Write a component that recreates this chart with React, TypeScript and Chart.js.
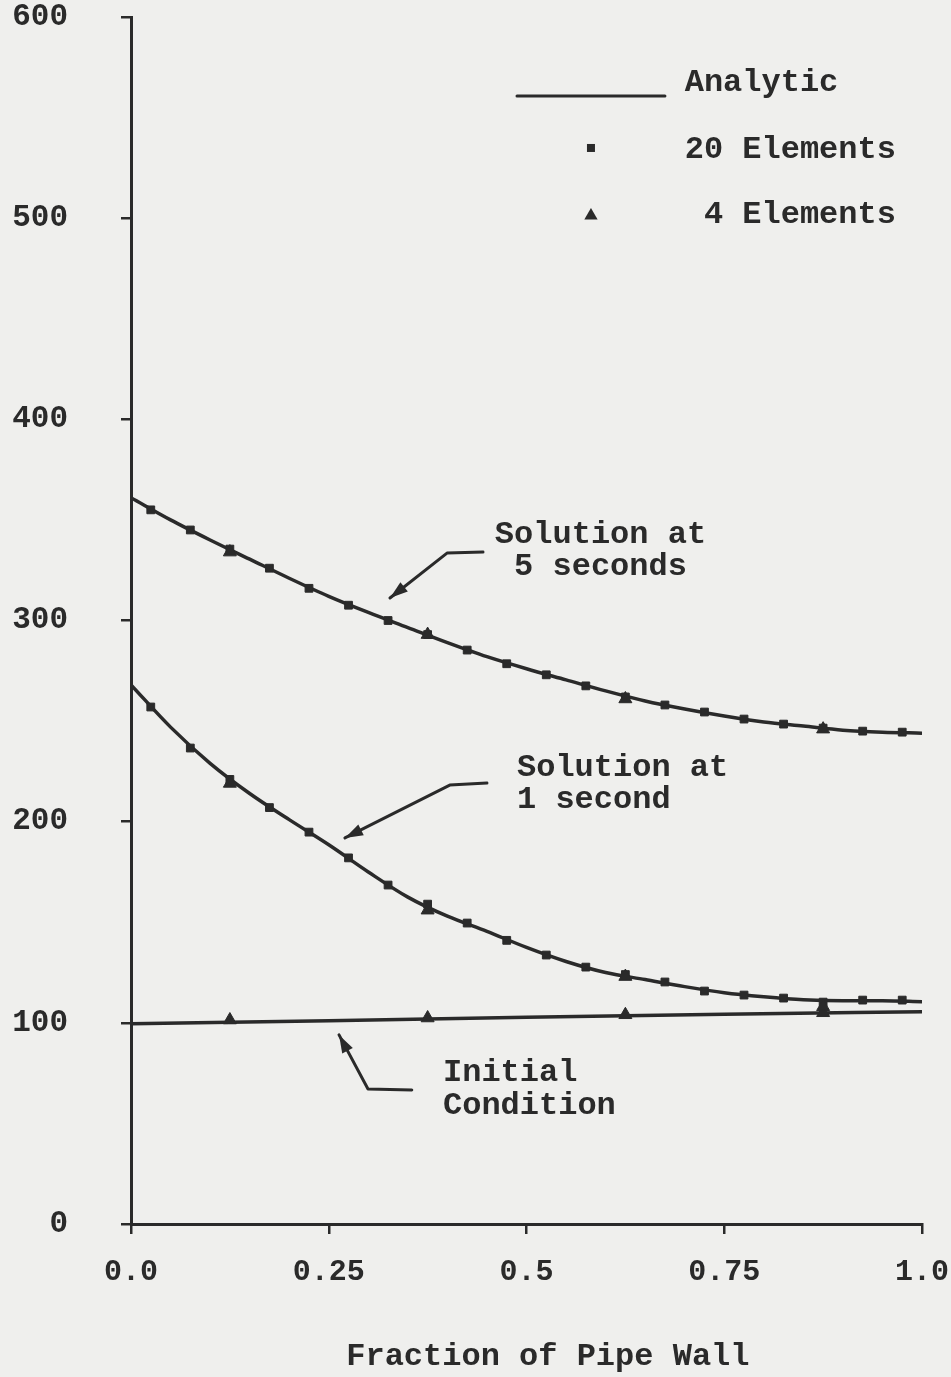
import { useEffect, useRef } from "react";
import { Chart, registerables } from "chart.js";

Chart.register(...registerables);

// ---------- data ----------
const analyticX = [0, 0.05, 0.1, 0.15, 0.2, 0.25, 0.3, 0.35, 0.4, 0.45, 0.5, 0.55, 0.6, 0.65, 0.7, 0.75, 0.8, 0.85, 0.9, 0.95, 1.0];
const analytic5s = [361, 350, 340, 330.5, 321, 312, 304, 296.5, 289, 282, 276, 270.5, 265, 260, 256, 252.5, 249.5, 247.5, 245.5, 244.5, 244];
const analytic1s = [268, 247, 229, 214, 201, 188.5, 175, 162.5, 153, 145.5, 137.5, 130.5, 125, 121.5, 118, 115, 113, 111.5, 111, 111, 110.5];

const initialX = [0, 0.25, 0.5, 0.75, 1.0];
const initialValues = [99.5, 101, 102.8, 104.3, 105.5];

const elem20X = [0.025, 0.075, 0.125, 0.175, 0.225, 0.275, 0.325, 0.375, 0.425, 0.475, 0.525, 0.575, 0.625, 0.675, 0.725, 0.775, 0.825, 0.875, 0.925, 0.975];
const elem20At5s = [355, 345, 335.5, 326, 316, 307.6, 300, 293, 285.3, 278.5, 273, 267.5, 262, 258, 254.5, 251, 248.5, 246.5, 245, 244.5];
const elem20At1s = [257, 236.6, 221, 207, 194.8, 182, 168.5, 159, 149.6, 141, 133.7, 127.7, 124, 120.3, 115.8, 113.8, 112.3, 110.3, 111.3, 111.3];

const elem4X = [0.125, 0.375, 0.625, 0.875];
const elem4At5s = [334, 293, 261, 246];
const elem4At1s = [219, 156, 123, 108];
const elem4Initial = [101.4, 102.4, 104, 105];

const xTickValues = [0, 0.25, 0.5, 0.75, 1.0];
const xTickLabels = ["0.0", "0.25", "0.5", "0.75", "1.0"];
const yTickValues = [0, 100, 200, 300, 400, 500, 600];
const yTickLabels = ["0", "100", "200", "300", "400", "500", "600"];

const xAxisTitle = "Fraction of Pipe Wall";
const xAxisTitleAnchor = { x: 0.527, y: -66 };
const legendLabels = ["Analytic", "20 Elements", " 4 Elements"];

// annotation texts and anchor positions (in data units)
const noteTexts = [
  ["Solution at", " 5 seconds"],
  ["Solution at", "1 second"],
  ["Initial", "Condition"],
];
const noteAnchors = [
  { x: 0.46, y: [342.5, 326.6] },
  { x: 0.488, y: [226.7, 210.8] },
  { x: 0.3944, y: [75.1, 58.7] },
];
const arrowPaths = [
  { x: [0.445, 0.3995, 0.3274], y: [334.0, 333.5, 311.2] },
  { x: [0.45, 0.403, 0.2705], y: [219.2, 218.2, 191.9] },
  { x: [0.355, 0.2996, 0.263], y: [66.6, 67.1, 94.0] },
];
const legendAnchor = {
  lineX: [0.488, 0.675],
  lineY: 560.7,
  markerX: 0.5815,
  textX: 0.7,
  rowY: [567.2, 533.9, 501.6],
};

const INK = "#2a2a2a";
const BG = "#efefed";
const FONT = "bold 32px 'Liberation Mono', 'DejaVu Sans Mono', monospace";

const toPts = (xs: number[], ys: number[]) => xs.map((x, i) => ({ x, y: ys[i] }));

function drawTriangle(ctx: CanvasRenderingContext2D, x: number, y: number, r: number) {
  ctx.beginPath();
  ctx.moveTo(x, y - r);
  ctx.lineTo(x + r * 0.95, y + r * 0.65);
  ctx.lineTo(x - r * 0.95, y + r * 0.65);
  ctx.closePath();
  ctx.fill();
}

const bgPlugin = {
  id: "bgPaper",
  beforeDraw(chart: any) {
    const ctx = chart.ctx;
    ctx.save();
    ctx.fillStyle = BG;
    ctx.fillRect(0, 0, chart.width, chart.height);
    ctx.restore();
  },
};

const notesPlugin = {
  id: "notes",
  afterDraw(chart: any) {
    const ctx: CanvasRenderingContext2D = chart.ctx;
    const sx = chart.scales.x;
    const sy = chart.scales.y;
    const px = (v: number) => sx.getPixelForValue(v);
    const py = (v: number) => sy.getPixelForValue(v);
    ctx.save();
    ctx.fillStyle = INK;
    ctx.strokeStyle = INK;
    ctx.font = FONT;
    ctx.textAlign = "left";
    ctx.textBaseline = "middle";

    // annotation texts
    noteTexts.forEach((lines, i) => {
      lines.forEach((t, j) => {
        ctx.fillText(t, px(noteAnchors[i].x), py(noteAnchors[i].y[j]));
      });
    });

    // x-axis title
    ctx.textAlign = "center";
    ctx.fillText(xAxisTitle, px(xAxisTitleAnchor.x), py(xAxisTitleAnchor.y));
    ctx.textAlign = "left";

    // arrows
    ctx.lineWidth = 3;
    ctx.lineCap = "round";
    ctx.lineJoin = "round";
    arrowPaths.forEach((a) => {
      const pts = a.x.map((x, k) => [px(x), py(a.y[k])]);
      ctx.beginPath();
      ctx.moveTo(pts[0][0], pts[0][1]);
      for (let k = 1; k < pts.length; k++) ctx.lineTo(pts[k][0], pts[k][1]);
      ctx.stroke();
      const [x1, y1] = pts[pts.length - 2];
      const [x2, y2] = pts[pts.length - 1];
      const ang = Math.atan2(y2 - y1, x2 - x1);
      const len = 18;
      const w = 6;
      ctx.beginPath();
      ctx.moveTo(x2, y2);
      ctx.lineTo(x2 - len * Math.cos(ang) + w * Math.sin(ang), y2 - len * Math.sin(ang) - w * Math.cos(ang));
      ctx.lineTo(x2 - len * Math.cos(ang) - w * Math.sin(ang), y2 - len * Math.sin(ang) + w * Math.cos(ang));
      ctx.closePath();
      ctx.fill();
    });

    // legend
    const la = legendAnchor;
    ctx.lineWidth = 3;
    ctx.beginPath();
    ctx.moveTo(px(la.lineX[0]), py(la.lineY));
    ctx.lineTo(px(la.lineX[1]), py(la.lineY));
    ctx.stroke();
    ctx.fillRect(px(la.markerX) - 4, py(la.rowY[1]) - 6, 8, 8);
    drawTriangle(ctx, px(la.markerX), py(la.rowY[2]), 7);
    legendLabels.forEach((t, i) => {
      ctx.fillText(t, px(la.textX), py(la.rowY[i]));
    });
    ctx.restore();
  },
};

const zeroPadding = (scale: any) => {
  scale.paddingTop = 0;
  scale.paddingBottom = 0;
  scale.paddingLeft = 0;
  scale.paddingRight = 0;
};

export default function App() {
  const ref = useRef<HTMLCanvasElement | null>(null);

  useEffect(() => {
    document.body.style.margin = "0";
    document.body.style.background = BG;
    const canvas = ref.current;
    if (!canvas) return;

    const lineDs = (label: string, xs: number[], ys: number[], tension: number) => ({
      label,
      type: "line" as const,
      data: toPts(xs, ys),
      borderColor: INK,
      borderWidth: 3.5,
      pointRadius: 0,
      tension,
      cubicInterpolationMode: "monotone" as const,
      fill: false,
      order: 2,
    });
    const rectDs = (label: string, xs: number[], ys: number[]) => ({
      label,
      type: "scatter" as const,
      data: toPts(xs, ys),
      pointStyle: "rect" as const,
      pointRadius: 5.5,
      backgroundColor: INK,
      borderColor: INK,
      borderWidth: 1,
      showLine: false,
      order: 1,
    });
    const triDs = (label: string, xs: number[], ys: number[]) => ({
      label,
      type: "scatter" as const,
      data: toPts(xs, ys),
      pointStyle: "triangle" as const,
      pointRadius: 7.5,
      backgroundColor: INK,
      borderColor: INK,
      borderWidth: 1,
      showLine: false,
      order: 0,
    });

    const chart = new Chart(canvas, {
      type: "scatter",
      data: {
        datasets: [
          lineDs("Analytic 5 s", analyticX, analytic5s, 0.4),
          lineDs("Analytic 1 s", analyticX, analytic1s, 0.4),
          lineDs("Initial Condition", initialX, initialValues, 0),
          rectDs("20 Elements 5 s", elem20X, elem20At5s),
          rectDs("20 Elements 1 s", elem20X, elem20At1s),
          triDs("4 Elements 5 s", elem4X, elem4At5s),
          triDs("4 Elements 1 s", elem4X, elem4At1s),
          triDs("4 Elements initial", elem4X, elem4Initial),
        ] as any,
      },
      options: {
        animation: false,
        responsive: false,
        devicePixelRatio: 1,
        layout: { padding: { top: 17, right: 29, left: 0, bottom: 0 } },
        plugins: {
          legend: { display: false },
          tooltip: { enabled: false },
        },
        scales: {
          x: {
            type: "linear",
            min: 0,
            max: 1,
            afterBuildTicks: (scale: any) => {
              scale.ticks = xTickValues.map((v) => ({ value: v }));
            },
            afterFit: (scale: any) => {
              scale.height = 153;
              zeroPadding(scale);
            },
            ticks: {
              autoSkip: false,
              maxRotation: 0,
              padding: 20,
              color: INK,
              font: { family: "'Liberation Mono', monospace", size: 30, weight: "bold" },
              callback: (v: any) => {
                const i = xTickValues.indexOf(Number(v));
                return i >= 0 ? xTickLabels[i] : "";
              },
            },
            grid: {
              display: true,
              drawOnChartArea: false,
              drawTicks: true,
              tickLength: 10,
              color: INK,
              lineWidth: 2.5,
            },
            border: { display: true, color: INK, width: 3 },
            title: { display: false },
          },
          y: {
            type: "linear",
            min: 0,
            max: 600,
            afterBuildTicks: (scale: any) => {
              scale.ticks = yTickValues.map((v) => ({ value: v }));
            },
            afterFit: (scale: any) => {
              scale.width = 131;
              zeroPadding(scale);
            },
            ticks: {
              autoSkip: false,
              padding: 53,
              color: INK,
              font: { family: "'Liberation Mono', monospace", size: 31, weight: "bold" },
              callback: (v: any) => {
                const i = yTickValues.indexOf(Number(v));
                return i >= 0 ? yTickLabels[i] : "";
              },
            },
            grid: {
              display: true,
              drawOnChartArea: false,
              drawTicks: true,
              tickLength: 10,
              color: INK,
              lineWidth: 2.5,
            },
            border: { display: true, color: INK, width: 3 },
          },
        },
      },
      plugins: [bgPlugin, notesPlugin],
    } as any);

    return () => chart.destroy();
  }, []);

  return (
    <div style={{ position: "absolute", left: 0, top: 0, width: 951, height: 1377, background: BG }}>
      <canvas ref={ref} width={951} height={1377} style={{ width: 951, height: 1377, display: "block" }} />
    </div>
  );
}
